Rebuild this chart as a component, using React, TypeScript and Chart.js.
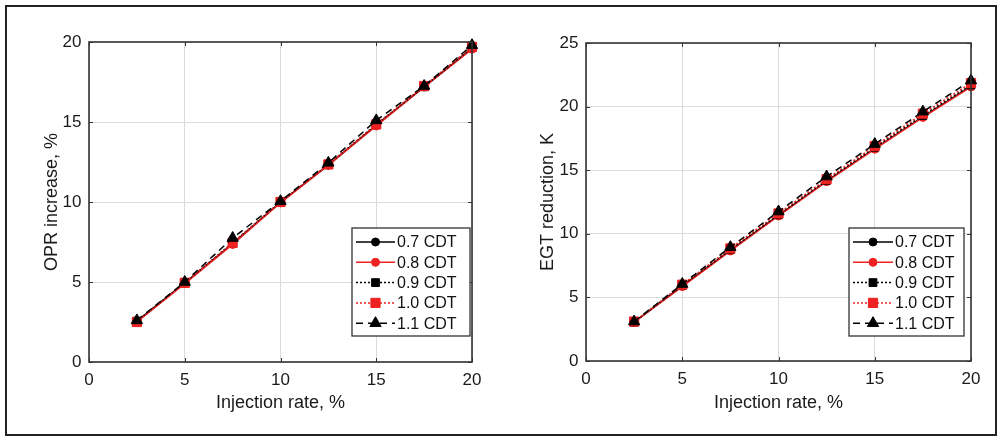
import React, { useEffect, useRef } from 'react';
import { Chart, registerables } from 'chart.js';

Chart.register(...registerables);

// ---------- data ----------
const injectionRate = [2.5, 5, 7.5, 10, 12.5, 15, 17.5, 20];
const seriesLabels = ['0.7 CDT', '0.8 CDT', '0.9 CDT', '1.0 CDT', '1.1 CDT'];

const opr07 = [2.55, 4.95, 7.4, 10.0, 12.3, 14.8, 17.2, 19.6];
const opr08 = [2.5, 4.9, 7.35, 9.95, 12.3, 14.75, 17.2, 19.55];
const opr09 = [2.55, 4.95, 7.45, 10.0, 12.35, 14.85, 17.2, 19.65];
const opr10 = [2.5, 4.95, 7.45, 10.0, 12.35, 14.85, 17.25, 19.7];
const opr11 = [2.6, 5.0, 7.75, 10.05, 12.45, 15.1, 17.25, 19.8];

const egt07 = [3.05, 5.9, 8.7, 11.45, 14.15, 16.7, 19.2, 21.6];
const egt08 = [3.05, 5.85, 8.65, 11.4, 14.1, 16.65, 19.15, 21.55];
const egt09 = [3.05, 5.95, 8.75, 11.5, 14.2, 16.8, 19.3, 21.7];
const egt10 = [3.1, 6.0, 8.85, 11.6, 14.3, 16.9, 19.45, 21.85];
const egt11 = [3.1, 6.05, 8.95, 11.75, 14.5, 17.05, 19.6, 22.05];

const xTicks = [0, 5, 10, 15, 20];
const oprTicks = [0, 5, 10, 15, 20];
const egtTicks = [0, 5, 10, 15, 20, 25];

const xTitle = 'Injection rate, %';
const oprTitle = 'OPR increase, %';
const egtTitle = 'EGT reduction, K';

// ---------- styles ----------
const RED = '#ee2222';
const seriesColors = ['#000000', RED, '#000000', RED, '#000000'];
const seriesDash = [[], [], [2, 2], [2, 2], [7, 5]];
const seriesPoint = ['circle', 'circle', 'rect', 'rect', 'triangle'];
const seriesRadius = [4, 4, 5.5, 6.5, 6.5];
const FONT = '"Liberation Sans", Arial, sans-serif';

function drawMarker(ctx: CanvasRenderingContext2D, style: string, x: number, y: number, r: number, color: string) {
  ctx.save();
  ctx.setLineDash([]);
  ctx.fillStyle = color;
  ctx.strokeStyle = color;
  ctx.lineWidth = 1;
  ctx.beginPath();
  if (style === 'circle') {
    ctx.arc(x, y, r, 0, Math.PI * 2);
  } else if (style === 'rect') {
    const s = Math.SQRT1_2 * r;
    ctx.rect(x - s, y - s, 2 * s, 2 * s);
  } else {
    let rad = 0;
    ctx.moveTo(x + Math.sin(rad) * r, y - Math.cos(rad) * r);
    rad += (2 * Math.PI) / 3;
    ctx.lineTo(x + Math.sin(rad) * r, y - Math.cos(rad) * r);
    rad += (2 * Math.PI) / 3;
    ctx.lineTo(x + Math.sin(rad) * r, y - Math.cos(rad) * r);
    ctx.closePath();
  }
  ctx.fill();
  ctx.stroke();
  ctx.restore();
}

const framePlugin = {
  id: 'frame',
  afterDraw(chart: any, _args: any, opts: any) {
    const ctx: CanvasRenderingContext2D = chart.ctx;
    const a = chart.chartArea;
    const xs = chart.scales.x;
    const ys = chart.scales.y;
    ctx.save();
    ctx.strokeStyle = '#333333';
    ctx.lineWidth = 1;
    ctx.setLineDash([]);
    const tl = 4;
    ctx.beginPath();
    xs.ticks.forEach((t: any) => {
      const px = Math.round(xs.getPixelForValue(t.value)) + 0.5;
      ctx.moveTo(px, a.bottom);
      ctx.lineTo(px, a.bottom - tl);
      ctx.moveTo(px, a.top);
      ctx.lineTo(px, a.top + tl);
    });
    ys.ticks.forEach((t: any) => {
      const py = Math.round(ys.getPixelForValue(t.value)) + 0.5;
      ctx.moveTo(a.left, py);
      ctx.lineTo(a.left + tl, py);
      ctx.moveTo(a.right, py);
      ctx.lineTo(a.right - tl, py);
    });
    ctx.stroke();
    ctx.lineWidth = 1.6;
    ctx.strokeRect(a.left, a.top, a.right - a.left, a.bottom - a.top);

    // legend
    const L = opts;
    if (L && L.box) {
      const [bx1, by1, bx2, by2] = L.box;
      ctx.fillStyle = '#ffffff';
      ctx.fillRect(bx1, by1, bx2 - bx1, by2 - by1);
      ctx.strokeStyle = '#333333';
      ctx.lineWidth = 1.3;
      ctx.strokeRect(bx1, by1, bx2 - bx1, by2 - by1);
      ctx.font = `16px ${FONT}`;
      ctx.textBaseline = 'middle';
      ctx.textAlign = 'left';
      chart.data.datasets.forEach((ds: any, i: number) => {
        const y = L.rowY0 + i * L.rowStep;
        ctx.save();
        ctx.strokeStyle = ds.borderColor;
        ctx.lineWidth = 1.5;
        ctx.setLineDash(ds.borderDash || []);
        ctx.beginPath();
        ctx.moveTo(L.lineX1, y);
        ctx.lineTo(L.lineX2, y);
        ctx.stroke();
        ctx.restore();
        drawMarker(ctx, ds.pointStyle, (L.lineX1 + L.lineX2) / 2, y, ds.pointRadius, ds.pointBackgroundColor);
        ctx.fillStyle = '#111111';
        ctx.fillText(ds.label, L.textX, y + 1);
      });
    }
    ctx.restore();
  },
};

type PanelProps = {
  left: number;
  width: number;
  area: { left: number; right: number; top: number; bottom: number };
  yTitle: string;
  yTicks: number[];
  series: number[][];
  yTitleCenter: number;
  legend: any;
};

function Panel(props: PanelProps) {
  const ref = useRef<HTMLCanvasElement | null>(null);
  useEffect(() => {
    const canvas = ref.current;
    if (!canvas) return;
    const H = 437;
    const { area } = props;
    const titleFont = { family: FONT, size: 18 };
    const lh = 18 * 1.2;
    const datasets = props.series.map((vals, i) => ({
      type: 'line' as const,
      label: seriesLabels[i],
      data: injectionRate.map((x, j) => ({ x, y: vals[j] })),
      borderColor: seriesColors[i],
      backgroundColor: seriesColors[i],
      borderWidth: 1.5,
      borderDash: seriesDash[i],
      pointStyle: seriesPoint[i],
      pointRadius: seriesRadius[i],
      pointBackgroundColor: seriesColors[i],
      pointBorderColor: seriesColors[i],
      pointBorderWidth: 1,
      tension: 0,
      clip: false as any,
      order: 5 - i,
    }));
    const chart = new Chart(canvas, {
      type: 'line',
      data: { datasets },
      options: {
        animation: false,
        responsive: false,
        devicePixelRatio: 1,
        layout: { padding: { left: 0, top: area.top, right: props.width - area.right, bottom: 0 } },
        plugins: {
          legend: { display: false },
          tooltip: { enabled: false },
          frame: props.legend,
        } as any,
        scales: {
          x: {
            type: 'linear',
            min: 0,
            max: 20,
            afterBuildTicks: (s: any) => {
              s.ticks = xTicks.map((v) => ({ value: v }));
            },
            afterFit: (s: any) => {
              s.height = H - area.bottom;
            },
            grid: { color: '#dadada', lineWidth: 1, drawTicks: false },
            border: { display: false },
            ticks: { padding: 8, color: '#1a1a1a', font: { family: FONT, size: 17 }, maxRotation: 0 },
            title: {
              display: true,
              text: xTitle,
              color: '#1a1a1a',
              font: titleFont,
              padding: { top: 0, bottom: H - 403.5 - lh / 2 },
            },
          },
          y: {
            type: 'linear',
            min: props.yTicks[0],
            max: props.yTicks[props.yTicks.length - 1],
            afterBuildTicks: (s: any) => {
              s.ticks = props.yTicks.map((v) => ({ value: v }));
            },
            afterFit: (s: any) => {
              s.width = area.left;
            },
            grid: { color: '#dadada', lineWidth: 1, drawTicks: false },
            border: { display: false },
            ticks: { padding: 7.5, color: '#1a1a1a', font: { family: FONT, size: 17 } },
            title: {
              display: true,
              text: props.yTitle,
              color: '#1a1a1a',
              font: titleFont,
              padding: { top: props.yTitleCenter - lh / 2, bottom: 0 },
            },
          },
        },
      },
      plugins: [framePlugin as any],
    });
    return () => chart.destroy();
  }, []);
  return (
    <canvas
      ref={ref}
      width={props.width}
      height={437}
      style={{ position: 'absolute', left: props.left, top: 0, width: props.width, height: 437 }}
    />
  );
}

export default function App() {
  return (
    <div style={{ position: 'absolute', left: 0, top: 0, width: 1001, height: 437, background: '#fff', overflow: 'hidden' }}>
      <Panel
        left={0}
        width={500}
        area={{ left: 89, right: 472, top: 42, bottom: 362 }}
        yTitle={oprTitle}
        yTicks={oprTicks}
        series={[opr07, opr08, opr09, opr10, opr11]}
        yTitleCenter={52}
        legend={{ box: [352, 228, 470, 336], rowY0: 242, rowStep: 20.3, lineX1: 356, lineX2: 395, textX: 397 }}
      />
      <Panel
        left={500}
        width={501}
        area={{ left: 86, right: 471, top: 43, bottom: 361 }}
        yTitle={egtTitle}
        yTicks={egtTicks}
        series={[egt07, egt08, egt09, egt10, egt11]}
        yTitleCenter={48}
        legend={{ box: [349, 228, 464, 336], rowY0: 242, rowStep: 20.3, lineX1: 353, lineX2: 393, textX: 395 }}
      />
      <div
        style={{
          position: 'absolute',
          left: 5,
          top: 5,
          width: 992,
          height: 431,
          border: '2px solid #222',
          boxSizing: 'border-box',
          pointerEvents: 'none',
        }}
      />
    </div>
  );
}
